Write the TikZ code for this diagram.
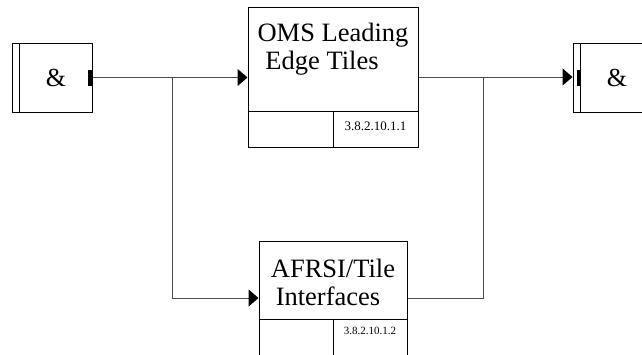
\documentclass[tikz,border=0pt]{standalone}
\usepackage{fontspec}
\setmainfont{Liberation Serif}
\usetikzlibrary{positioning,arrows.meta,calc}
\tikzset{
  func/.style  ={draw=black,line width=1pt,inner sep=0pt},
  junc/.style  ={func,minimum width=80pt,minimum height=69pt},
  title/.style ={font=\fontsize{26.5}{28}\selectfont,align=center,inner sep=0pt},
  amp/.style   ={font=\fontsize{26}{28}\selectfont,inner sep=0pt},
  refno/.style ={font=\fontsize{#1}{#1}\selectfont,inner sep=0pt},
  bar/.style   ={fill=black,minimum width=4pt,minimum height=16pt,inner sep=0pt},
  arr/.style   ={-{Triangle[length=10pt,width=17pt,black]},line width=1pt,draw=black!70},
  link/.style  ={line width=1pt,draw=black!70},
}
\begin{document}
\begin{tikzpicture}[x=1pt,y=-1pt]
  \useasboundingbox (0,0) rectangle (642,354);
  \clip (0,0) rectangle (642,354);

  % junctions
  \node[junc] (andL) at (52,77.5) {};
  \node[amp]  (andLt) at ($(andL.center)+(4,0)$) {\&};
  \node[bar,left=0pt of andL.east] (barL) {};
  \draw[func] ($(andL.north west)+(8,0)$) -- ($(andL.south west)+(8,0)$);

  \node[junc] (andR) at (613,77.5) {};
  \node[amp]  (andRt) at ($(andR.center)+(4,0)$) {\&};
  \node[bar]  (barR) at ($(andR.west)+(6,0)$) {};
  \draw[func] ($(andR.north west)+(8,0)$) -- ($(andR.south west)+(8,0)$);

  % functions
  \node[func,minimum width=170pt,minimum height=140pt] (oms) at (333,77) {};
  \node[title] (omst) at ($(oms.north)+(0,43)$) {OMS Leading\\Edge Tiles\hspace*{22pt}};
  \draw[func] ($(oms.north west)+(0,105)$) -- ($(oms.north east)+(0,105)$);
  \draw[func] ($(oms.north)+(0,105)$) -- (oms.south);
  \node[refno=13] (omsn) at (375.5,126) {3.8.2.10.1.1};

  \node[func,minimum width=148pt,minimum height=114pt] (afrsi) at (333,298) {};
  \node[title] (afrsit) at ($(afrsi.north)+(0,42)$) {AFRSI/Tile\\Interfaces\hspace*{10pt}};
  \draw[func] ($(afrsi.north west)+(0,79)$) -- ($(afrsi.north east)+(0,79)$);
  \draw[func] ($(afrsi.north)+(0,79)$) -- (afrsi.south);
  \node[refno=11] (afrsin) at (370,331) {3.8.2.10.1.2};

  \coordinate (jl) at (172,77);
  \coordinate (jr) at (483,77);

  % connectors
  \draw[arr]  (barL.east) -- (barL.east -| oms.west);
  \draw[arr]  (jl) |- (afrsi.west);
  \draw[arr]  (oms.east) -- (oms.east -| andR.west);
  \draw[link] (afrsi.east) -| (jr);
\end{tikzpicture}
\end{document}
